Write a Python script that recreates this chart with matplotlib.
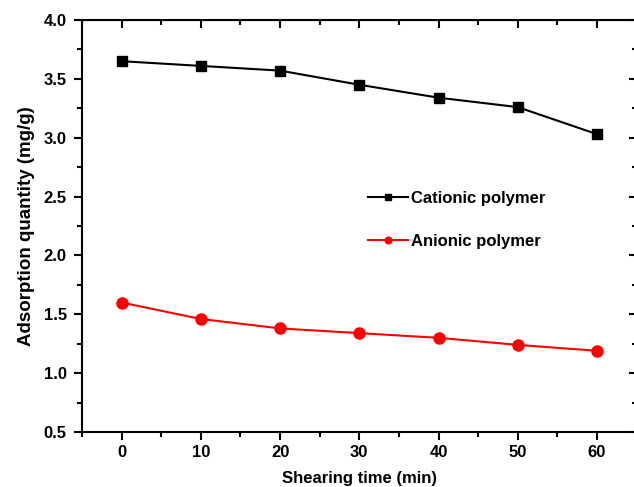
import matplotlib
matplotlib.use("Agg")
from matplotlib import pyplot as plt
from matplotlib.ticker import MultipleLocator, FormatStrFormatter

# shearing time (min)
time_min = [0, 10, 20, 30, 40, 50, 60]
# adsorption quantity (mg/g)
cationic = [3.65, 3.61, 3.57, 3.45, 3.34, 3.26, 3.03]
anionic = [1.60, 1.46, 1.38, 1.34, 1.30, 1.24, 1.19]

plt.rcParams['font.family'] = ['Liberation Sans', 'DejaVu Sans']
plt.rcParams['font.weight'] = 'bold'

fig = plt.figure(figsize=(6.34, 4.87), dpi=100)
ax = fig.add_axes([82 / 634, 1 - 432 / 487, (636.6 - 82) / 634, (432 - 20) / 487])

ax.plot(time_min, cationic, color='black', marker='s', markersize=7.5, lw=1.5,
        label='Cationic polymer')
ax.plot(time_min, anionic, color='red', marker='o', markersize=8, lw=1.5,
        label='Anionic polymer')

ax.set_xlim(-5, 65)
ax.set_ylim(0.5, 4.0)
ax.xaxis.set_major_locator(MultipleLocator(10))
ax.xaxis.set_minor_locator(MultipleLocator(5))
ax.yaxis.set_major_locator(MultipleLocator(0.5))
ax.yaxis.set_minor_locator(MultipleLocator(0.25))
ax.yaxis.set_major_formatter(FormatStrFormatter('%.1f'))

ax.tick_params(which='both', direction='out', labelsize=12, width=1.5)
ax.tick_params(which='major', length=6)
ax.tick_params(which='minor', length=3.5)
ax.tick_params(axis='y', pad=5)
for lab in ax.get_xticklabels() + ax.get_yticklabels():
    lab.set_fontweight('bold')

# mirrored inward ticks on top and right
top = ax.secondary_xaxis('top')
top.xaxis.set_major_locator(MultipleLocator(10))
top.xaxis.set_minor_locator(MultipleLocator(5))
top.tick_params(which='both', direction='in', labeltop=False, width=1.5)
top.tick_params(which='major', length=6)
top.tick_params(which='minor', length=3.5)
right = ax.secondary_yaxis('right')
right.yaxis.set_major_locator(MultipleLocator(0.5))
right.yaxis.set_minor_locator(MultipleLocator(0.25))
right.tick_params(which='both', direction='in', labelright=False, width=1.5)
right.tick_params(which='major', length=6)
right.tick_params(which='minor', length=3.5)

for s in ax.spines.values():
    s.set_linewidth(1.5)

ax.set_xlabel('Shearing time (min)', fontsize=12, fontweight='bold', labelpad=8)
ax.set_ylabel('Adsorption quantity (mg/g)', fontsize=13.5, fontweight='bold', labelpad=6)

leg = ax.legend(loc='center left', bbox_to_anchor=(0.488, 0.515), frameon=False,
                fontsize=12, labelspacing=1.7, handlelength=2.4,
                handletextpad=0.2, markerscale=0.6)
for t in leg.get_texts():
    t.set_fontweight('bold')

fig.savefig('out.png', dpi=100)
